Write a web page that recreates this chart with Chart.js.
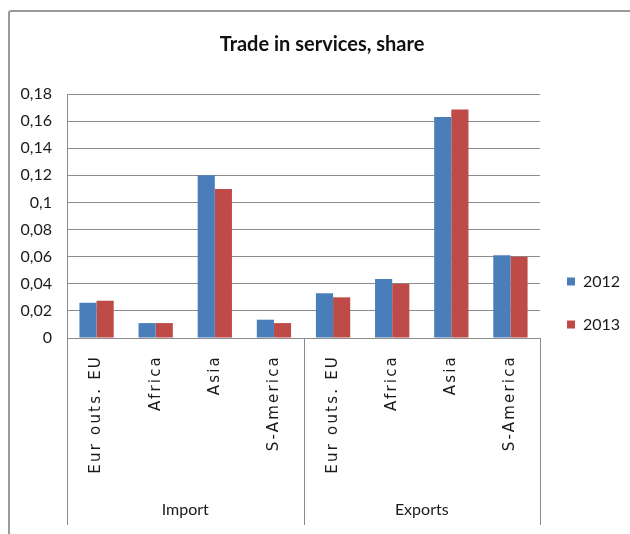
<!DOCTYPE html>
<html>
<head>
<meta charset="utf-8">
<script src="https://cdn.jsdelivr.net/npm/chart.js@4"></script>
<style>
  html, body { margin: 0; padding: 0; background: #fff; overflow: hidden; }
  #wrap { position: relative; width: 630px; height: 534px; }
  #frame { position: absolute; left: 8px; top: 10px; width: 640px; height: 540px;
           border: 2px solid #9a9a9a; border-radius: 3px; box-sizing: border-box; }
  canvas { position: absolute; left: 0; top: 0; }
</style>
</head>
<body>
<div id="wrap">
  <div id="frame"></div>
  <canvas id="trade" width="630" height="534"></canvas>
</div>
<script>
// data
const categories = ["Eur outs. EU", "Africa", "Asia", "S-America",
                    "Eur outs. EU", "Africa", "Asia", "S-America"];
const groups = ["Import", "Exports"];
const groupSize = 4;
const series = ["2012", "2013"];
const values2012 = [0.026, 0.011, 0.120, 0.0135, 0.033, 0.0435, 0.163, 0.061];
const values2013 = [0.0275, 0.011, 0.110, 0.011, 0.030, 0.040, 0.1685, 0.060];
const yTicks = [0, 0.02, 0.04, 0.06, 0.08, 0.1, 0.12, 0.14, 0.16, 0.18];

const gridColor = "#8c8c8c";
const textFont = "Lato, 'Open Sans', sans-serif";

// draws the second level of the category axis (Import / Exports) and its dividers
const groupAxis = {
  id: "groupAxis",
  afterLayout(chart) {
    // legend sits lower than the middle of its column in the original
    chart.legend.top += 36;
    chart.legend.bottom += 36;
  },
  afterDatasetsDraw(chart) {
    // x tick labels are drawn after datasets (z: 1), spaced out like the original
    chart.ctx.letterSpacing = "2.2px";
  },
  afterDraw(chart) {
    const ctx = chart.ctx;
    ctx.letterSpacing = "0px";
    const xs = chart.scales.x;
    const half = (xs.getPixelForValue(1) - xs.getPixelForValue(0)) / 2;
    const top = chart.chartArea.bottom;
    const bottom = chart.height - 9;
    ctx.save();
    ctx.strokeStyle = gridColor;
    ctx.lineWidth = 1;
    ctx.fillStyle = "#1a1a1a";
    ctx.font = "16px " + textFont;
    ctx.textAlign = "center";
    ctx.textBaseline = "middle";
    groups.forEach((g, i) => {
      const x0 = xs.getPixelForValue(i * groupSize) - half;
      const x1 = xs.getPixelForValue(i * groupSize + groupSize - 1) + half;
      [x0, x1].forEach(xx => {
        ctx.beginPath();
        ctx.moveTo(Math.round(xx) + 0.5, top);
        ctx.lineTo(Math.round(xx) + 0.5, bottom);
        ctx.stroke();
      });
      ctx.fillText(g, (x0 + x1) / 2, chart.height - 24);
    });
    ctx.restore();
  }
};

new Chart(document.getElementById("trade"), {
  type: "bar",
  data: {
    labels: categories,
    datasets: [
      { label: series[0], data: values2012, backgroundColor: "#4a7ebb" },
      { label: series[1], data: values2013, backgroundColor: "#be4b48" }
    ]
  },
  options: {
    responsive: false,
    animation: false,
    layout: { padding: { left: 14, right: 0, top: 0, bottom: 0 } },
    datasets: { bar: { categoryPercentage: 0.58, barPercentage: 1 } },
    plugins: {
      title: {
        display: true,
        text: "Trade in services, share",
        color: "#111",
        font: { family: textFont, size: 20, weight: "bold" },
        padding: { top: 33, bottom: 37 }
      },
      legend: {
        position: "right",
        align: "center",
        maxWidth: 90,
        labels: {
          boxWidth: 8,
          boxHeight: 8,
          padding: 27,
          color: "#1a1a1a",
          font: { family: textFont, size: 16 }
        }
      },
      tooltip: { enabled: false }
    },
    scales: {
      x: {
        grid: { display: false },
        border: { display: true, color: gridColor, width: 1 },
        ticks: {
          z: 1,
          autoSkip: false,
          maxRotation: 90,
          minRotation: 90,
          padding: 9,
          color: "#1a1a1a",
          font: { family: "'DejaVu Sans', sans-serif", size: 15 }
        },
        afterFit(scale) { scale.height = 196; }
      },
      y: {
        min: 0,
        max: 0.18,
        afterBuildTicks(scale) { scale.ticks = yTicks.map(v => ({ value: v })); },
        grid: { color: gridColor, lineWidth: 1, drawTicks: false },
        border: { display: true, color: gridColor, width: 1 },
        ticks: {
          padding: 15,
          color: "#1a1a1a",
          font: { family: textFont, size: 16 },
          callback: v => String(+v.toFixed(2)).replace(".", ",")
        },
        afterFit(scale) { scale.width = 53; }
      }
    }
  },
  plugins: [groupAxis]
});
</script>
</body>
</html>
